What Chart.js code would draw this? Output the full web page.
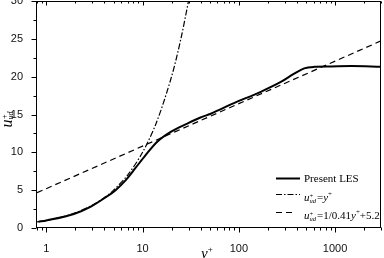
<!DOCTYPE html>
<html>
<head>
<meta charset="utf-8">
<script src="https://cdn.jsdelivr.net/npm/chart.js@4.4.1/dist/chart.umd.min.js"></script>
<style>
  body { margin: 0; background: #fff; }
  #wrap { position: relative; width: 384px; height: 258px; overflow: hidden; }
  #wrap canvas { position: absolute; left: 0; top: 0; }
  .t { position: absolute; font-family: "Liberation Serif", "Times New Roman", serif; color: #000; white-space: nowrap; }
  .ss { display: inline-block; vertical-align: middle; line-height: 0.8; font-size: 6.5px; text-align: left; margin-right: 1px; }
  .leg { font-size: 11px; line-height: 14px; }
</style>
</head>
<body>
<div id="wrap">
  <canvas id="profileChart" width="384" height="258"></canvas>

  <!-- titres des axes -->
  <div class="t" style="left:-8px;top:109px;width:30px;height:20px;line-height:20px;text-align:center;font-size:16px;transform:rotate(-90deg);">
    <i>u</i><span class="ss" style="font-size:8px"><i>+</i><br><i>ud</i></span>
  </div>
  <div class="t" style="left:201px;top:244px;font-size:15px;"><i>y</i><sup style="font-size:9px">+</sup></div>

  <!-- legende -->
  <div class="t leg" style="left:304px;top:171px;">Present LES</div>
  <div class="t leg" style="left:304px;top:187px;"><i>u</i><span class="ss">+<br><i>ud</i></span>=<i>y</i><sup style="font-size:7px">+</sup></div>
  <div class="t leg" style="left:304px;top:205px;"><i>u</i><span class="ss">+<br><i>ud</i></span>=1/0.41<i>y</i><sup style="font-size:7px">+</sup>+5.2</div>
</div>

<script>
// donnees
const lesY = [0.83, 1.0, 1.93, 2.87, 3.96, 5.24, 6.65, 8.4, 10.7, 14.2, 19.6, 29.2, 40, 51, 89, 169, 273, 376, 478, 610, 900, 1476, 3000];
const lesU = [0.83, 1.0, 1.85, 2.8, 3.9, 5.0, 6.3, 7.9, 9.6, 11.4, 12.7, 13.8, 14.6, 15.1, 16.5, 18.0, 19.3, 20.4, 21.1, 21.3, 21.35, 21.4, 21.3];

const viscY = [0.8, 1, 1.5, 2, 3, 4, 5, 7, 10, 14, 20, 25, 30, 32];
const viscU = [0.8, 1, 1.5, 2, 3, 4, 5, 7, 10, 14, 20, 25, 30, 32];

const logY = [0.8, 3000];
const logU = [4.66, 24.73];

const yTicks = [0, 5, 10, 15, 20, 25, 30];
const xDecades = [1, 10, 100, 1000];

function pts(xs, ys) {
    return xs.map((x, i) => ({ x: x, y: ys[i] }));
}

// traits des axes, cadre et echantillons de la legende
const framePlugin = {
    id: 'frame',
    afterDraw(chart) {
        const ctx = chart.ctx;
        const a = chart.chartArea;
        const xs = chart.scales.x;
        const ys = chart.scales.y;
        const L = Math.round(a.left) - 0.5, R = Math.round(a.right) - 0.5;
        const T = Math.round(a.top) + 0.5, B = Math.round(a.bottom) - 0.5;

        ctx.save();
        ctx.strokeStyle = '#000';
        ctx.lineWidth = 1;
        ctx.strokeRect(L, T, R - L, B - T);

        ctx.beginPath();
        // y : majeurs tous les 5, mineurs a 2.5
        for (let v = 0; v <= 30; v += 2.5) {
            const py = Math.round(ys.getPixelForValue(v)) + 0.5;
            const len = (v % 5 === 0) ? 5 : 3;
            ctx.moveTo(L, py); ctx.lineTo(L - len, py);
        }
        // x : decades log
        [0.1, 1, 10, 100, 1000].forEach(d => {
            for (let k = 1; k <= 9; k++) {
                const v = k * d;
                if (v < 0.8 || v > 3000) continue;
                const px = Math.round(xs.getPixelForValue(v)) + 0.5;
                const major = k === 1;
                ctx.moveTo(px, B); ctx.lineTo(px, B + (major ? 5 : 3));
                ctx.moveTo(px, T); ctx.lineTo(px, T + (major ? 4 : 2));
            }
        });
        ctx.stroke();

        // echantillons de la legende
        const rows = [178, 194, 212];
        chart.data.datasets.forEach((ds, i) => {
            ctx.beginPath();
            ctx.lineWidth = ds.borderWidth;
            ctx.setLineDash(ds.borderDash || []);
            ctx.moveTo(276, rows[i] + 0.5);
            ctx.lineTo(i === 2 ? 294 : 300, rows[i] + 0.5);
            ctx.stroke();
        });
        ctx.restore();
    }
};

new Chart(document.getElementById('profileChart'), {
    type: 'scatter',
    data: {
        datasets: [
            {
                label: 'Present LES',
                data: pts(lesY, lesU),
                showLine: true,
                borderColor: '#000',
                borderWidth: 2,
                pointRadius: 0,
                cubicInterpolationMode: 'monotone',
                order: 0
            },
            {
                label: 'u+ud=y+',
                data: pts(viscY, viscU),
                showLine: true,
                borderColor: '#000',
                borderWidth: 1.2,
                borderDash: [6, 2, 1.5, 2],
                pointRadius: 0,
                tension: 0.3,
                order: 1
            },
            {
                label: 'u+ud=1/0.41y+ +5.2',
                data: pts(logY, logU),
                showLine: true,
                borderColor: '#000',
                borderWidth: 1.2,
                borderDash: [6, 4],
                pointRadius: 0,
                order: 2
            }
        ]
    },
    options: {
        responsive: false,
        animation: false,
        layout: { padding: { top: 1, right: 3, left: 0, bottom: 0 } },
        plugins: {
            legend: { display: false },
            tooltip: { enabled: false }
        },
        scales: {
            x: {
                type: 'logarithmic',
                min: 0.8,
                max: 3000,
                grid: { display: false },
                border: { display: false },
                ticks: {
                    color: '#111',
                    font: { family: '"Liberation Sans", Arial, sans-serif', size: 11 },
                    padding: 6,
                    autoSkip: false,
                    maxRotation: 0,
                    callback: (v) => xDecades.includes(v) ? String(v) : ''
                },
                afterFit(scale) {
                    scale.height = 30;
                    scale.paddingLeft = 0;
                    scale.paddingRight = 0;
                }
            },
            y: {
                min: 0,
                max: 30,
                grid: { display: false },
                border: { display: false },
                afterBuildTicks(scale) { scale.ticks = yTicks.map(v => ({ value: v })); },
                ticks: {
                    color: '#111',
                    font: { family: '"Liberation Sans", Arial, sans-serif', size: 11 },
                    padding: 6
                },
                afterFit(scale) {
                    scale.width = 37;
                    scale.paddingTop = 0;
                    scale.paddingBottom = 0;
                }
            }
        }
    },
    plugins: [framePlugin]
});
</script>
</body>
</html>
